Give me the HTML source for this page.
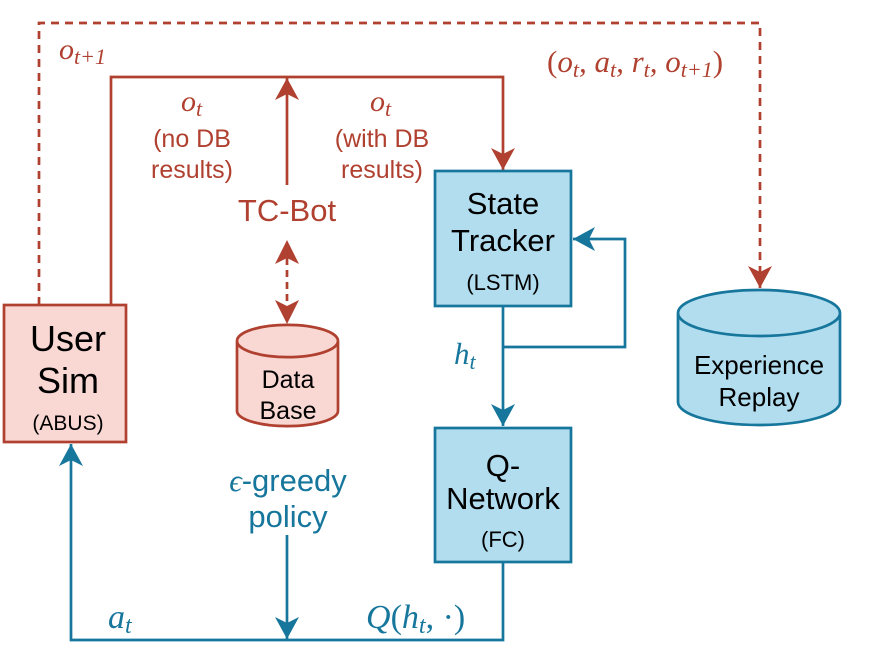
<!DOCTYPE html>
<html><head><meta charset="utf-8"><style>
html,body{margin:0;padding:0;background:#fff}
svg{display:block}
.s{font-family:"Liberation Sans",sans-serif}
.m{font-family:"Liberation Serif",serif;font-style:italic}
</style></head><body>
<svg width="871" height="672" viewBox="0 0 871 672" xmlns="http://www.w3.org/2000/svg">
<defs>
<marker id="ar" viewBox="0 0 20 20" refX="20" refY="10" markerWidth="20" markerHeight="20" markerUnits="userSpaceOnUse" orient="auto-start-reverse" overflow="visible">
<path d="M20,10 L-2,-2 L4,10 L-2,22 Z" fill="#b0402f"/></marker>
<marker id="ab" viewBox="0 0 20 20" refX="20" refY="10" markerWidth="20" markerHeight="20" markerUnits="userSpaceOnUse" orient="auto-start-reverse" overflow="visible">
<path d="M20,10 L-2,-2 L4,10 L-2,22 Z" fill="#16769c"/></marker>
</defs>
<g fill="none" stroke="#b0402f" stroke-width="2.7">
<path d="M39,305 V23 H760 V288" stroke-dasharray="8,6" marker-end="url(#ar)"/>
<path d="M111,305 V77 H503 V170" marker-end="url(#ar)"/>
<path d="M287,185 V78" marker-end="url(#ar)"/>
<path d="M287,258 V305" stroke-dasharray="7,5"/>
</g>
<path d="M287,240 l-12,24 l12,-6 l12,6z" fill="#b0402f"/>
<path d="M287,324 l-12,-24 l12,6 l12,-6z" fill="#b0402f"/>
<g fill="none" stroke="#16769c" stroke-width="2.7">
<path d="M503,306 V426" marker-end="url(#ab)"/>
<path d="M503,347 H625 V239 H573" marker-end="url(#ab)"/>
<path d="M503,562 V640 H71 V444" marker-end="url(#ab)"/>
<path d="M287,535 V639" marker-end="url(#ab)"/>
</g>
<rect x="4" y="305" width="122" height="137" fill="#f9d8d4" stroke="#b0402f" stroke-width="2.7"/>
<rect x="435" y="171" width="136" height="135" fill="#b1ddef" stroke="#16769c" stroke-width="2.7"/>
<rect x="435" y="428" width="136" height="134" fill="#b1ddef" stroke="#16769c" stroke-width="2.7"/>
<path d="M237,341 V411 A50,15 0 0 0 338,411 V341 A50,16 0 0 0 237,341 A50,16 0 0 0 338,341" fill="#f9d8d4" stroke="#b0402f" stroke-width="2.7"/>
<path d="M678,313 V402 A81,23 0 0 0 840,402 V313 A81,23 0 0 0 678,313 A81,23 0 0 0 840,313" fill="#b1ddef" stroke="#16769c" stroke-width="2.7"/>
<g class="s" text-anchor="middle" fill="#000">
<text x="68" y="351" font-size="36">User</text>
<text x="68" y="393" font-size="36">Sim</text>
<text x="68" y="430" font-size="21">(ABUS)</text>
<text x="503" y="214" font-size="31">State</text>
<text x="503" y="251" font-size="31">Tracker</text>
<text x="503" y="290" font-size="22">(LSTM)</text>
<text x="503" y="476" font-size="31">Q-</text>
<text x="503" y="509" font-size="31">Network</text>
<text x="503" y="547" font-size="22">(FC)</text>
<text x="288" y="388" font-size="25">Data</text>
<text x="288" y="419" font-size="25">Base</text>
<text x="759" y="374" font-size="26">Experience</text>
<text x="759" y="406" font-size="26">Replay</text>
</g>
<g class="s" text-anchor="middle" fill="#b0402f">
<text x="287" y="221" font-size="31">TC-Bot</text>
<text x="192" y="147" font-size="25">(no DB</text>
<text x="192" y="178" font-size="25">results)</text>
<text x="382" y="147" font-size="25">(with DB</text>
<text x="382" y="178" font-size="25">results)</text>
</g>
<g class="m" fill="#b0402f">
<text x="59" y="59" font-size="30">o<tspan font-size="22" dy="5">t+1</tspan></text>
<text x="181" y="111" font-size="30">o<tspan font-size="22" dy="5">t</tspan></text>
<text x="370" y="111" font-size="30">o<tspan font-size="22" dy="5">t</tspan></text>
<text x="547" y="72" font-size="31"><tspan font-style="normal">(</tspan>o<tspan font-size="22" dy="5">t</tspan><tspan dy="-5">, a</tspan><tspan font-size="22" dy="5">t</tspan><tspan dy="-5">, r</tspan><tspan font-size="22" dy="5">t</tspan><tspan dy="-5">, o</tspan><tspan font-size="22" dy="5">t+1</tspan><tspan dy="-5" font-style="normal">)</tspan></text>
</g>
<g fill="#16769c">
<text class="s" x="288" y="491" font-size="31" text-anchor="middle"><tspan class="m">ϵ</tspan>-greedy</text>
<text class="s" x="288" y="527" font-size="31" text-anchor="middle">policy</text>
<text class="m" x="454" y="364" font-size="31">h<tspan font-size="22" dy="5">t</tspan></text>
<text class="m" x="108" y="628" font-size="34">a<tspan font-size="24" dy="5">t</tspan></text>
<text class="m" x="366" y="628" font-size="34">Q<tspan font-style="normal">(</tspan>h<tspan font-size="24" dy="5">t</tspan><tspan dy="-5" font-style="normal">, ·)</tspan></text>
</g>
</svg>
</body></html>
